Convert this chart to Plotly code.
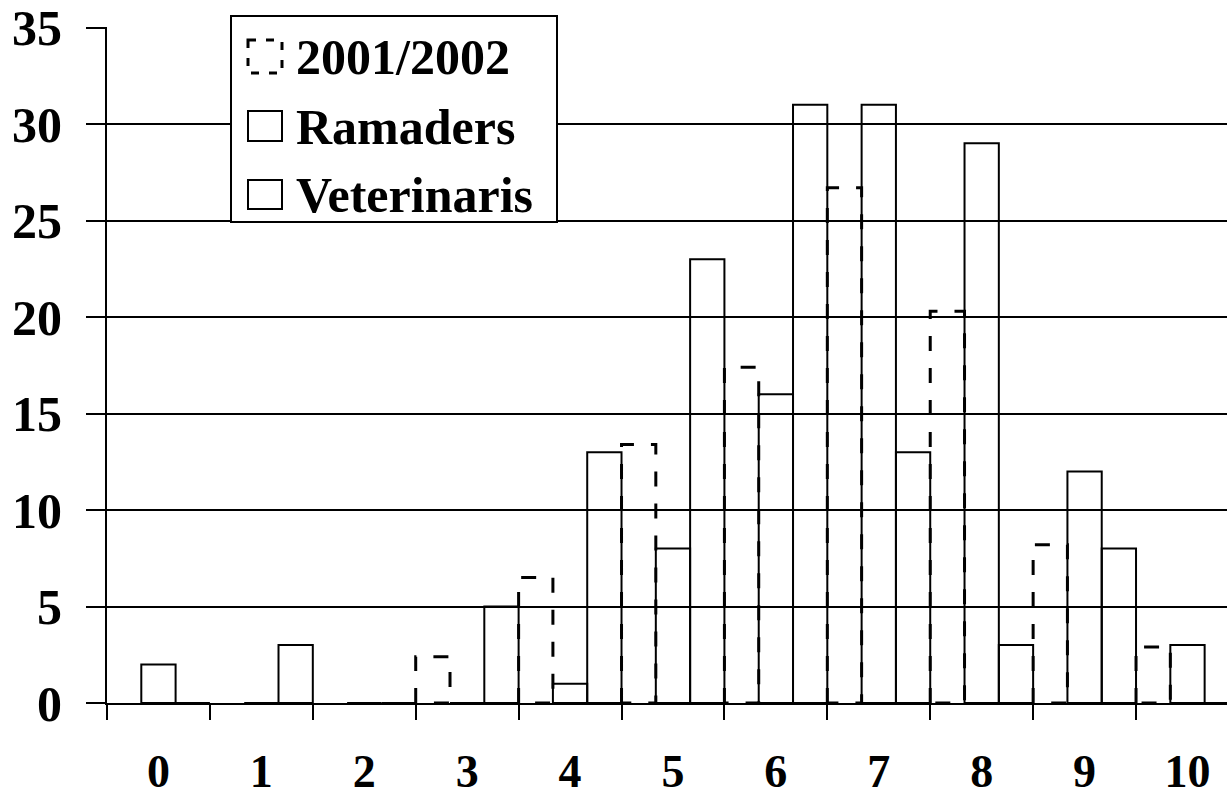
import plotly.graph_objects as go

# ---- data ----
categories = list(range(11))
tick_labels = [str(c) for c in categories]
series_names = ["2001/2002", "Ramaders", "Veterinaris"]
v2001 = [0, 0, 0, 2.4, 6.5, 13.4, 17.4, 26.7, 20.3, 8.2, 2.9]
ramaders = [2, 0, 0, 0, 1, 8, 16, 31, 29, 12, 3]
veterinaris = [0, 3, 0, 5, 13, 23, 31, 13, 3, 8, 0]
y_ticks = [0, 5, 10, 15, 20, 25, 30, 35]

W, H = 1227, 799
ML, MR, MT, MB = 107, 0, 27, 96
PW, PH = W - ML - MR, H - MT - MB
FONT = "Liberation Serif"
DASH = "15px,17px"
slot = 1.0 / 3.0

def px(x):
    return (x - ML) / PW

def py(y):
    return (H - MB - y) / PH

fig = go.Figure()

# dashed outline bars for 2001/2002 (first slot of each group)
xs, ys = [], []
for c, v in zip(categories, v2001):
    if v <= 0:
        continue
    x0 = c - 0.5
    x1 = x0 + slot
    xs += [x0, x0, x1, x1, x0, None]
    ys += [0, v, v, 0, 0, None]
fig.add_trace(go.Scatter(x=xs, y=ys, mode="lines", name=series_names[0],
                         line=dict(color="black", width=3, dash=DASH),
                         hoverinfo="skip", showlegend=False))

for i, (name, vals) in enumerate([(series_names[1], ramaders), (series_names[2], veterinaris)]):
    fig.add_trace(go.Bar(x=categories, y=vals, name=name,
                         width=slot, offset=-0.5 + slot * (i + 1),
                         marker=dict(color="rgba(0,0,0,0)",
                                     line=dict(color="black", width=2)),
                         showlegend=False))

fig.update_layout(
    width=W, height=H,
    margin=dict(l=ML, r=MR, t=MT, b=MB, autoexpand=False),
    paper_bgcolor="white", plot_bgcolor="white",
    font=dict(family=FONT, size=50, color="black", weight="bold"),
    barmode="overlay",
    showlegend=False,
)

fig.update_xaxes(
    range=[-0.5, 10.384], automargin=False,
    tickmode="array", tickvals=categories, ticktext=tick_labels,
    ticks="", showgrid=False, zeroline=False,
    showline=True, linecolor="black", linewidth=2,
    ticklabelstandoff=27, ticklabeloverflow="allow",
    tickfont=dict(family=FONT, size=46, color="black", weight="bold"),
    minor=dict(tickmode="array", tickvals=[c - 0.5 for c in categories],
               ticks="outside", ticklen=15, tickwidth=2, tickcolor="black",
               showgrid=False),
)
fig.update_yaxes(
    range=[0, 35.03], automargin=False,
    tickmode="array", tickvals=y_ticks, ticktext=[str(t) for t in y_ticks],
    ticks="outside", ticklen=19, tickwidth=2, tickcolor="black",
    showgrid=True, gridcolor="black", gridwidth=2,
    zeroline=False, showline=True, linecolor="black", linewidth=2,
    ticklabelstandoff=14, ticklabeloverflow="allow",
    tickfont=dict(family=FONT, size=50, color="black", weight="bold"),
)

# ---- legend (drawn manually to match square keys) ----
shapes = [dict(type="rect", xref="paper", yref="paper",
               x0=px(231), x1=px(557), y0=py(16), y1=py(222),
               line=dict(color="black", width=2), fillcolor="white", layer="above")]
key_rows = [(40, 73), (111, 141), (180, 209)]
text_centers = [57, 127, 195]
for i, name in enumerate(series_names):
    y0, y1 = key_rows[i]
    shapes.append(dict(type="rect", xref="paper", yref="paper",
                       x0=px(248), x1=px(282), y0=py(y0), y1=py(y1),
                       line=dict(color="black", width=2 if i else 3,
                                 dash="solid" if i else "8px,10px"),
                       fillcolor="rgba(0,0,0,0)", layer="above"))
    fig.add_annotation(xref="paper", yref="paper", x=px(294), y=py(text_centers[i]),
                       xanchor="left", yanchor="middle", showarrow=False,
                       text=name,
                       font=dict(family=FONT, size=50, color="black", weight="bold"))
fig.update_layout(shapes=shapes)

fig.write_html("out.html", config={"displayModeBar": False},
               post_script="document.body.style.margin='0px';document.body.style.overflow='hidden';")
